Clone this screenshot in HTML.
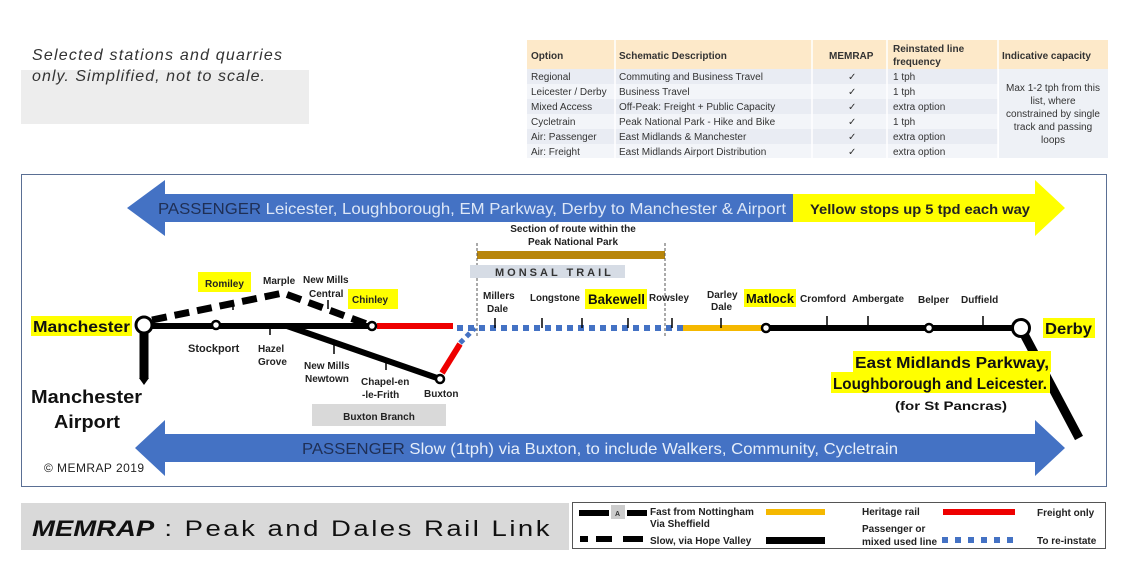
<!DOCTYPE html>
<html><head><meta charset="utf-8"><style>
body{margin:0;background:#fff;width:1122px;height:561px;overflow:hidden;font-family:"Liberation Sans",sans-serif}
svg{display:block}
.s{font-family:"Liberation Sans",sans-serif;font-weight:bold;font-size:10px;fill:#222}
.t{font-family:"Liberation Sans",sans-serif;font-size:10px;fill:#333}
</style></head><body>
<svg width="1122" height="561" viewBox="0 0 1122 561">
<rect x="21" y="70" width="288" height="54" fill="#ededed"/>
<text x="32" y="60" font-size="16" font-style="italic" fill="#333" font-family="Liberation Sans" textLength="250">Selected stations and quarries</text>
<text x="32" y="81" font-size="16" font-style="italic" fill="#333" font-family="Liberation Sans" textLength="233">only.  Simplified, not to scale.</text>
<rect x="527" y="40" width="581" height="29" fill="#fde9c9"/>
<rect x="527" y="69" width="471" height="89" fill="#e9ecf3"/>
<rect x="527" y="84" width="471" height="15" fill="#f3f5f9"/>
<rect x="527" y="114" width="471" height="15" fill="#f3f5f9"/>
<rect x="527" y="144" width="471" height="14" fill="#f3f5f9"/>
<rect x="999" y="69" width="109" height="89" fill="#eef1f6"/>
<g stroke="#fff" stroke-width="1.5"><line x1="615" y1="40" x2="615" y2="158"/><line x1="812" y1="40" x2="812" y2="158"/><line x1="887" y1="40" x2="887" y2="158"/><line x1="998" y1="40" x2="998" y2="158"/></g>
<g font-size="10" font-weight="bold" fill="#333" font-family="Liberation Sans">
<text x="531" y="59">Option</text><text x="619" y="59">Schematic Description</text><text x="829" y="59">MEMRAP</text>
<text x="893" y="52">Reinstated line</text><text x="893" y="65">frequency</text><text x="1002" y="59">Indicative capacity</text></g>
<g class="t">
<text x="531" y="80">Regional</text><text x="619" y="80">Commuting and Business Travel</text><text x="848" y="80">✓</text><text x="893" y="80">1 tph</text>
<text x="531" y="95">Leicester / Derby</text><text x="619" y="95">Business Travel</text><text x="848" y="95">✓</text><text x="893" y="95">1 tph</text>
<text x="531" y="110">Mixed Access</text><text x="619" y="110">Off-Peak: Freight + Public Capacity</text><text x="848" y="110">✓</text><text x="893" y="110">extra option</text>
<text x="531" y="125">Cycletrain</text><text x="619" y="125">Peak National Park - Hike and Bike</text><text x="848" y="125">✓</text><text x="893" y="125">1 tph</text>
<text x="531" y="140">Air: Passenger</text><text x="619" y="140">East Midlands &amp; Manchester</text><text x="848" y="140">✓</text><text x="893" y="140">extra option</text>
<text x="531" y="155">Air: Freight</text><text x="619" y="155">East Midlands Airport Distribution</text><text x="848" y="155">✓</text><text x="893" y="155">extra option</text>
</g>
<g class="t" text-anchor="middle"><text x="1053" y="91">Max 1-2 tph from this</text><text x="1053" y="104">list, where</text><text x="1053" y="117">constrained by single</text><text x="1053" y="130">track and passing</text><text x="1053" y="143">loops</text></g>
<rect x="21.5" y="174.5" width="1085" height="312" fill="#fff" stroke="#5a6f94" stroke-width="1"/>
<polygon points="127,208 165,180 165,194 793,194 793,222 165,222 165,236" fill="#4472c4"/>
<polygon points="793,194 1035,194 1035,180 1065,208 1035,236 1035,222 793,222" fill="#ffff00"/>
<text x="158" y="214" font-size="16" font-family="Liberation Sans" fill="#1f2f55" textLength="628" lengthAdjust="spacingAndGlyphs">PASSENGER <tspan fill="#dde7f7">Leicester, Loughborough, EM Parkway, Derby to Manchester &amp; Airport</tspan></text>
<text x="810" y="214" font-size="14" font-weight="bold" font-family="Liberation Sans" fill="#222" textLength="220" lengthAdjust="spacingAndGlyphs">Yellow stops up 5 tpd each way</text>
<polygon points="135,448 165,420 165,434 1035,434 1035,420 1065,448 1035,476 1035,462 165,462 165,476" fill="#4472c4"/>
<text x="302" y="454" font-size="16" font-family="Liberation Sans" fill="#1f2f55" textLength="596" lengthAdjust="spacingAndGlyphs">PASSENGER <tspan fill="#e6eefa">Slow (1tph) via Buxton, to include Walkers, Community, Cycletrain</tspan></text>
<text x="44" y="472" font-size="12" font-family="Liberation Sans" fill="#222" textLength="100">© MEMRAP 2019</text>
<text class="s" x="573" y="232" text-anchor="middle" font-size="9">Section of route within the</text>
<text class="s" x="573" y="245" text-anchor="middle" font-size="9">Peak National Park</text>
<rect x="477" y="251" width="188" height="8" fill="#b8860b"/>
<g stroke="#555" stroke-width="1" stroke-dasharray="3,2"><line x1="477" y1="243" x2="477" y2="336"/><line x1="665" y1="243" x2="665" y2="336"/></g>
<rect x="470" y="265" width="155" height="13" fill="#d6dce5"/>
<text x="495" y="276" font-size="11" font-weight="bold" letter-spacing="3" fill="#333" font-family="Liberation Sans">MONSAL  TRAIL</text>
<line x1="144" y1="330" x2="144" y2="378" stroke="#000" stroke-width="9"/>
<polygon points="139,378 149,378 144,385" fill="#000"/>
<line x1="150" y1="326" x2="372" y2="326" stroke="#000" stroke-width="6"/>
<line x1="287" y1="326" x2="440" y2="379" stroke="#000" stroke-width="6"/>
<polyline points="152,320 283,293 372,326" fill="none" stroke="#000" stroke-width="7" stroke-dasharray="15,8"/>
<line x1="377" y1="326" x2="453" y2="326" stroke="#e00" stroke-width="6"/>
<line x1="442" y1="373" x2="460" y2="344" stroke="#e00" stroke-width="6"/>
<line x1="460" y1="343" x2="475" y2="328" stroke="#4472c4" stroke-width="5" stroke-dasharray="5,4"/>
<line x1="457" y1="328" x2="683" y2="328" stroke="#4472c4" stroke-width="6" stroke-dasharray="6,5"/>
<line x1="683" y1="328" x2="763" y2="328" stroke="#f5b800" stroke-width="6"/>
<line x1="766" y1="328" x2="1014" y2="328" stroke="#000" stroke-width="6"/>
<line x1="1025" y1="336" x2="1079" y2="438" stroke="#000" stroke-width="9"/>
<g stroke="#000" stroke-width="1.5">
<line x1="233" y1="302" x2="233" y2="310"/><line x1="270" y1="326" x2="270" y2="335"/><line x1="328" y1="300" x2="328" y2="309"/>
<line x1="334" y1="345" x2="334" y2="354"/><line x1="386" y1="362" x2="386" y2="370"/>
<line x1="495" y1="318" x2="495" y2="328"/><line x1="542" y1="318" x2="542" y2="328"/><line x1="582" y1="318" x2="582" y2="328"/><line x1="628" y1="318" x2="628" y2="328"/><line x1="672" y1="318" x2="672" y2="328"/>
<line x1="721" y1="318" x2="721" y2="328"/><line x1="827" y1="316" x2="827" y2="328"/><line x1="868" y1="316" x2="868" y2="328"/><line x1="983" y1="316" x2="983" y2="328"/>
</g>
<g fill="#fff" stroke="#000">
<circle cx="144" cy="325" r="8" stroke-width="3"/><circle cx="216" cy="325" r="4" stroke-width="2.5"/><circle cx="372" cy="326" r="4" stroke-width="2.5"/>
<circle cx="440" cy="379" r="4" stroke-width="2.5"/><circle cx="766" cy="328" r="4" stroke-width="2.5"/><circle cx="929" cy="328" r="4" stroke-width="2.5"/><circle cx="1021" cy="328" r="8.5" stroke-width="3"/>
</g>
<g fill="#ffff00">
<rect x="31" y="316" width="101" height="20"/><rect x="198" y="272" width="53" height="20"/><rect x="348" y="289" width="50" height="20"/>
<rect x="585" y="289" width="62" height="20"/><rect x="744" y="289" width="52" height="18"/><rect x="1043" y="318" width="52" height="20"/>
<rect x="853" y="351" width="198" height="21"/><rect x="831" y="372" width="219" height="21"/>
</g>
<g font-family="Liberation Sans" font-weight="bold" fill="#111">
<text x="33" y="332" font-size="16" textLength="97" lengthAdjust="spacingAndGlyphs">Manchester</text>
<text x="31" y="403" font-size="18" textLength="111" lengthAdjust="spacingAndGlyphs">Manchester</text><text x="54" y="428" font-size="18" textLength="66" lengthAdjust="spacingAndGlyphs">Airport</text>
<text x="1045" y="334" font-size="16" textLength="47" lengthAdjust="spacingAndGlyphs">Derby</text>
<text x="855" y="368" font-size="16" textLength="194" lengthAdjust="spacingAndGlyphs">East Midlands Parkway,</text>
<text x="833" y="389" font-size="16" textLength="214" lengthAdjust="spacingAndGlyphs">Loughborough and Leicester.</text>
<text x="895" y="410" font-size="12" textLength="112" lengthAdjust="spacingAndGlyphs">(for St Pancras)</text>
<text x="588" y="304" font-size="14" textLength="57" lengthAdjust="spacingAndGlyphs">Bakewell</text><text x="746" y="303" font-size="13" textLength="48" lengthAdjust="spacingAndGlyphs">Matlock</text>
</g>
<g class="s">
<text x="205" y="287">Romiley</text><text x="352" y="303">Chinley</text>
<text x="263" y="284">Marple</text><text x="303" y="283">New Mills</text><text x="309" y="297">Central</text>
<text x="188" y="352" font-size="11">Stockport</text><text x="258" y="352">Hazel</text><text x="258" y="365">Grove</text>
<text x="304" y="369">New Mills</text><text x="305" y="382">Newtown</text>
<text x="361" y="385">Chapel-en</text><text x="362" y="398">-le-Frith</text><text x="424" y="397">Buxton</text>
<text x="483" y="299">Millers</text><text x="487" y="312">Dale</text><text x="530" y="301" textLength="50" lengthAdjust="spacingAndGlyphs">Longstone</text><text x="649" y="301" textLength="40" lengthAdjust="spacingAndGlyphs">Rowsley</text>
<text x="707" y="298">Darley</text><text x="711" y="310">Dale</text><text x="800" y="302" textLength="46" lengthAdjust="spacingAndGlyphs">Cromford</text><text x="852" y="302" textLength="52" lengthAdjust="spacingAndGlyphs">Ambergate</text>
<text x="918" y="303">Belper</text><text x="961" y="303">Duffield</text>
</g>
<rect x="312" y="404" width="134" height="22" fill="#d9d9d9"/>
<text class="s" x="379" y="420" text-anchor="middle" font-size="12">Buxton Branch</text>
<rect x="21" y="503" width="548" height="47" fill="#d9d9d9"/>
<text x="32" y="536" font-size="22" font-family="Liberation Sans" fill="#111" textLength="520" lengthAdjust="spacingAndGlyphs"><tspan font-weight="bold" font-style="italic">MEMRAP</tspan><tspan letter-spacing="2"> : Peak and Dales Rail Link</tspan></text>
<rect x="572.5" y="502.5" width="533" height="46" fill="#fff" stroke="#555" stroke-width="1"/>
<rect x="579" y="510" width="30" height="6" fill="#000"/><rect x="611" y="505" width="14" height="14" fill="#ccc"/><text x="615" y="516" font-size="7" font-weight="bold" font-family="Liberation Sans" fill="#333">A</text><rect x="627" y="510" width="20" height="6" fill="#000"/>
<rect x="580" y="536" width="8" height="6" fill="#000"/><rect x="596" y="536" width="16" height="6" fill="#000"/><rect x="623" y="536" width="20" height="6" fill="#000"/>
<rect x="766" y="509" width="59" height="6" fill="#f5b800"/><rect x="766" y="537" width="59" height="7" fill="#000"/>
<rect x="943" y="509" width="72" height="6" fill="#e00"/>
<line x1="942" y1="540" x2="1020" y2="540" stroke="#4472c4" stroke-width="6" stroke-dasharray="6,7"/>
<g class="s"><text x="650" y="515">Fast from Nottingham</text><text x="650" y="527">Via Sheffield</text><text x="650" y="544">Slow, via Hope Valley</text>
<text x="862" y="515">Heritage rail</text><text x="862" y="532">Passenger or</text><text x="862" y="545">mixed used line</text>
<text x="1037" y="516">Freight only</text><text x="1037" y="544">To re-instate</text></g>
</svg>
</body></html>
